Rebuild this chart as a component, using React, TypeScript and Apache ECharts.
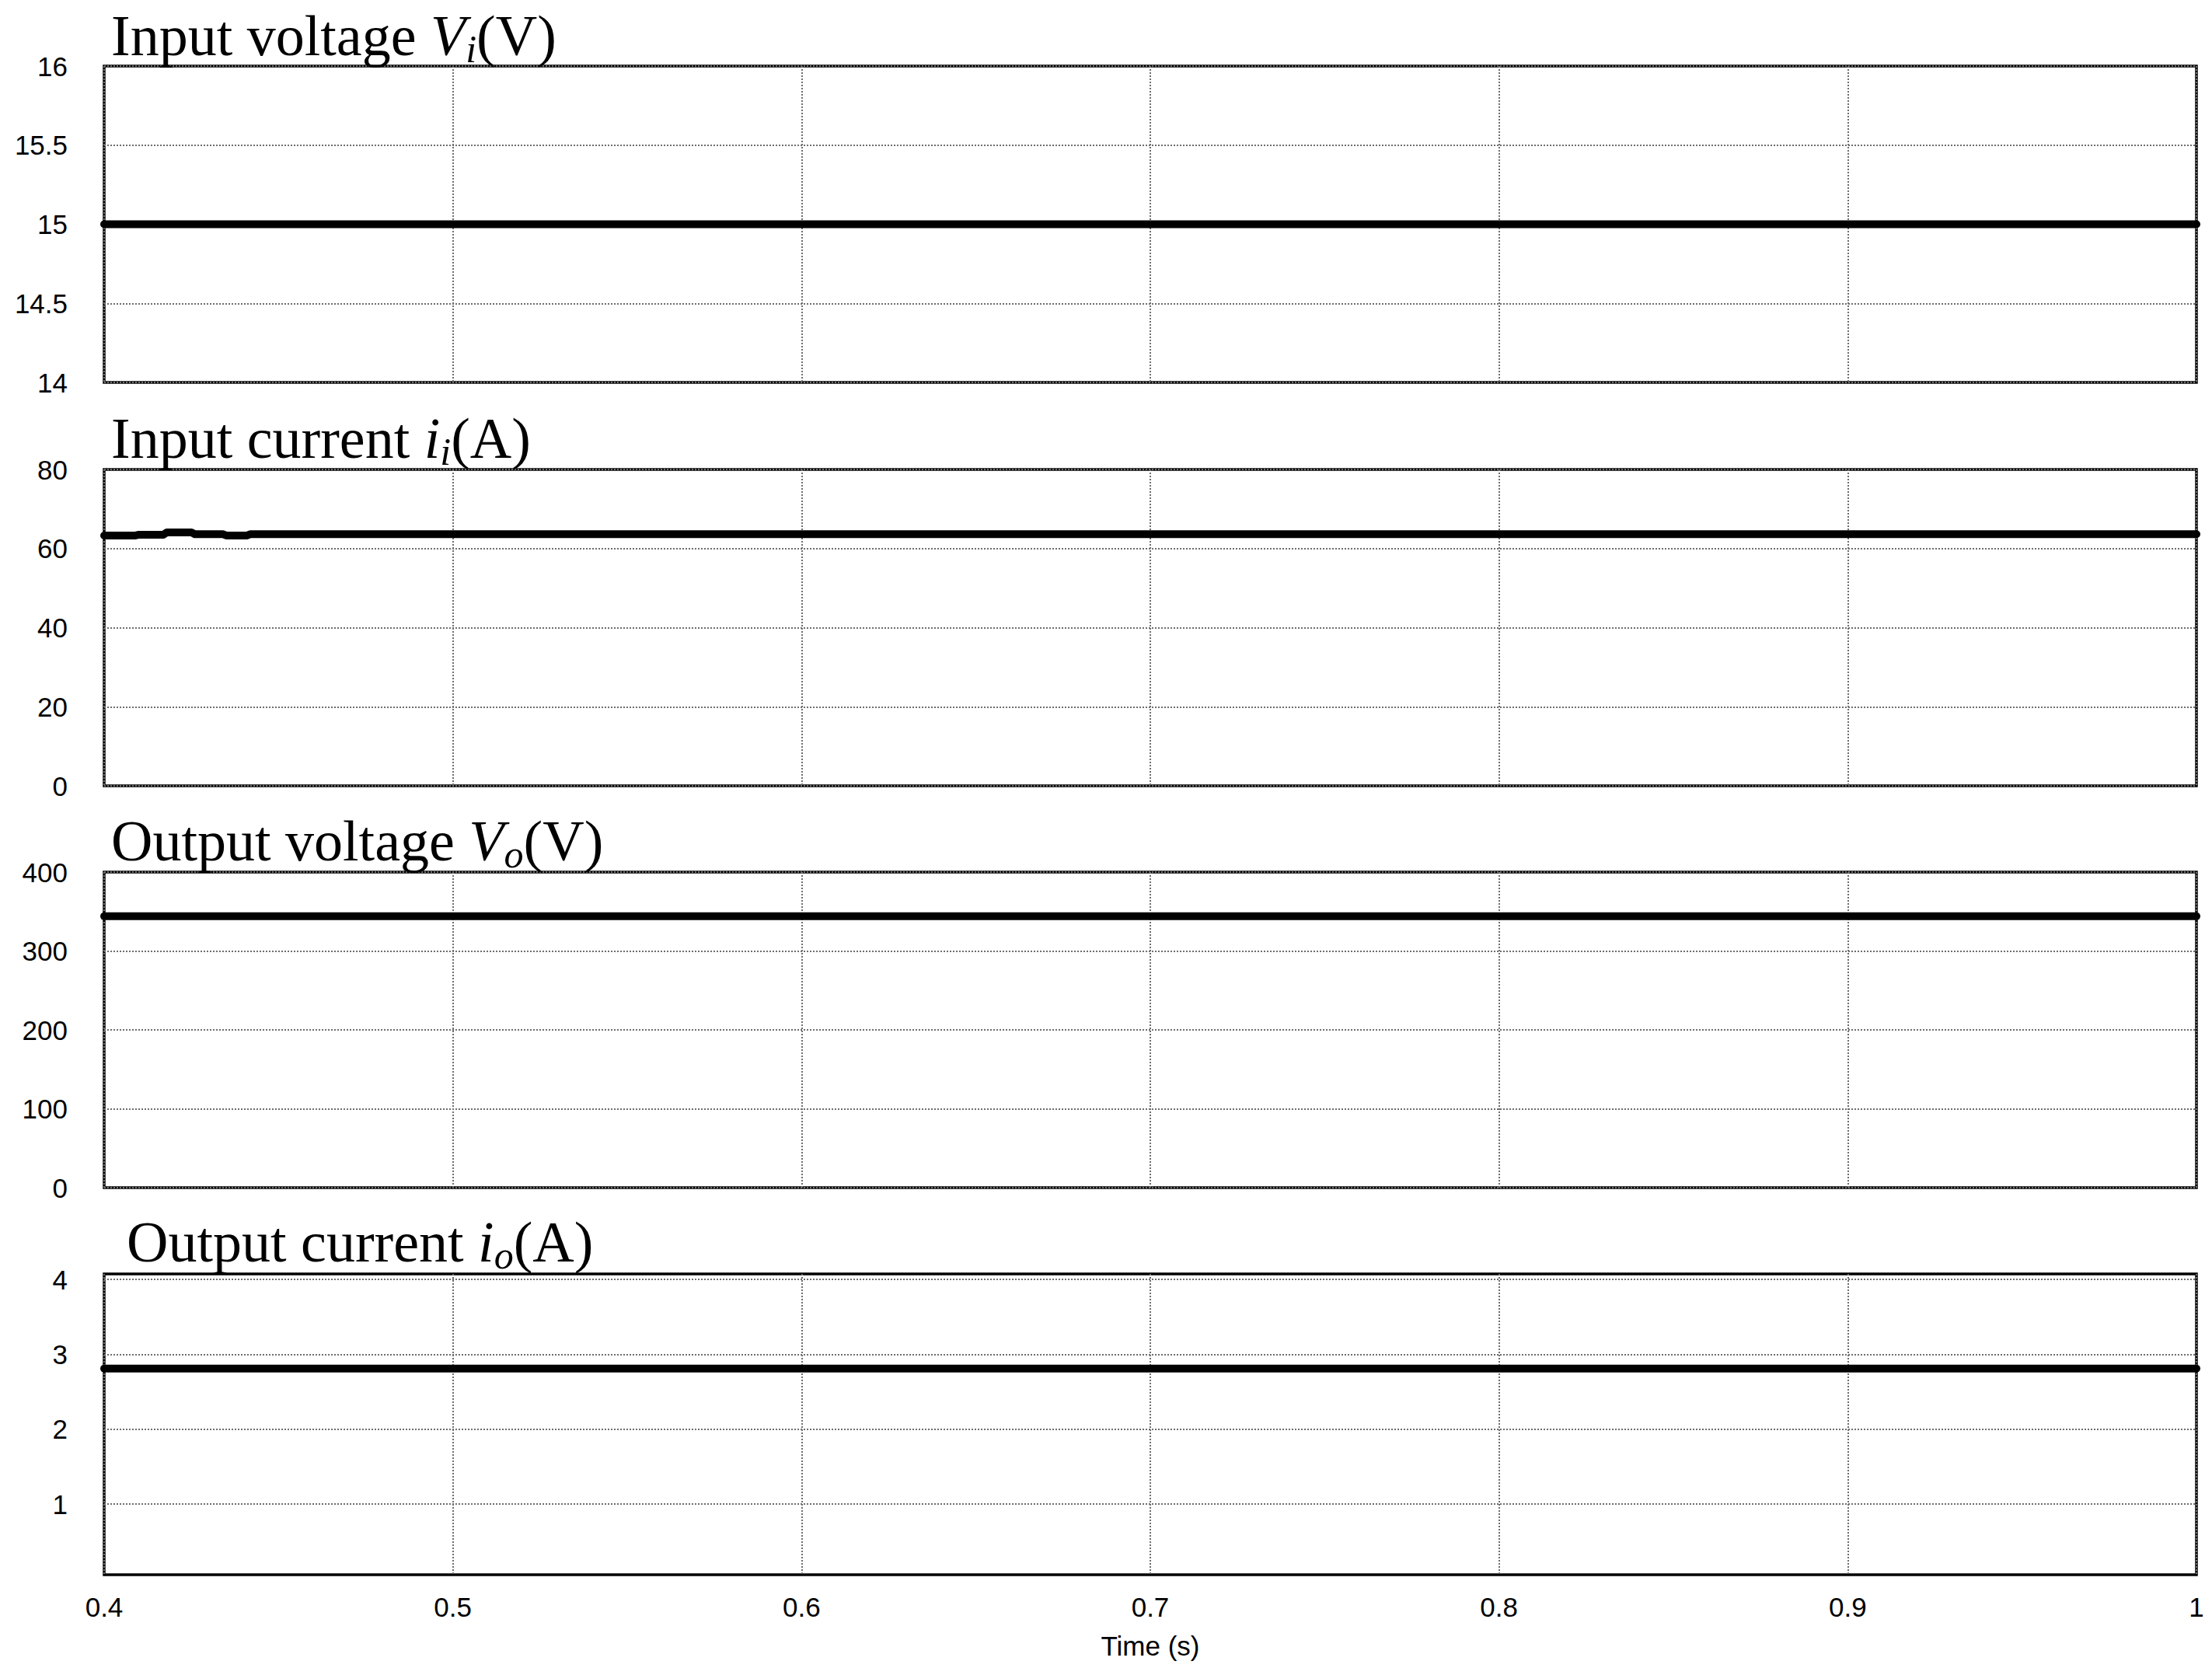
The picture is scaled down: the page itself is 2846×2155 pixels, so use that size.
import React, { useEffect, useRef } from 'react';
import * as echarts from 'echarts';

// ---- Data ----
const timeRange = [0.4, 1.0];
const timeInterval = 0.1;

const vinTime = [0.4, 1.0];
const vinValues = [15, 15];

const iinTime = [0.4, 0.409, 0.41, 0.417, 0.418, 0.425, 0.426, 0.434, 0.435, 0.441, 0.442, 1.0];
const iinValues = [63.3, 63.3, 63.5, 63.5, 64.1, 64.1, 63.65, 63.65, 63.3, 63.3, 63.65, 63.65];

const voTime = [0.4, 1.0];
const voValues = [344, 344];

const ioTime = [0.4, 1.0];
const ioValues = [2.81, 2.81];

const vinAxis = { min: 14, max: 16, interval: 0.5 };
const iinAxis = { min: 0, max: 80, interval: 20 };
const voAxis = { min: 0, max: 400, interval: 100 };
const ioAxis = { min: 0.055, max: 4.075 };
const ioTicks = [1, 2, 3, 4];

const titles = [
  'Input voltage {it|V}{sub|i}(V)',
  'Input current {it|i}{sub|i}(A)',
  'Output voltage {it|V}{sub|o}(V)',
  'Output current {it|i}{sub|o}(A)',
];
const xName = 'Time (s)';

// ---- Layout ----
const LEFT = 134;
const RIGHT = 20;
const gridBoxes = [
  { top: 85, height: 407 },
  { top: 604, height: 407 },
  { top: 1122, height: 406 },
  { top: 1639, height: 387 },
];
const titlePos = [
  { left: 143, top: 4 },
  { left: 143, top: 522 },
  { left: 143, top: 1040 },
  { left: 163, top: 1556 },
];

const gridLine = { type: 'dotted' as const, color: '#6e6e6e', width: 2 };
const tickFont = { fontSize: 35, color: '#000', fontFamily: 'Liberation Sans' };

export default function App() {
  const ref = useRef<HTMLDivElement>(null);
  useEffect(() => {
    document.body.style.margin = '0';
    document.body.style.overflow = 'hidden';
    if (!ref.current) return;
    const chart = echarts.init(ref.current, null, { renderer: 'svg' });

    const serif = 'Liberation Serif';
    const rich = {
      it: { fontFamily: serif, fontSize: 74, fontStyle: 'italic', color: '#000', lineHeight: 84 },
      sub: { fontFamily: serif, fontSize: 50, fontStyle: 'italic', color: '#000', lineHeight: 84, verticalAlign: 'bottom' },
    };

    const yAxes: any[] = [vinAxis, iinAxis, voAxis].map((a, i) => ({
      type: 'value',
      gridIndex: i,
      min: a.min,
      max: a.max,
      interval: a.interval,
      axisLine: { show: false },
      axisTick: { show: false },
      axisLabel: { ...tickFont, margin: 47 },
      splitLine: { show: true, lineStyle: gridLine },
    }));
    yAxes.push({
      type: 'value',
      gridIndex: 3,
      min: ioAxis.min,
      max: ioAxis.max,
      axisLine: { show: false },
      axisTick: { show: false },
      axisLabel: { ...tickFont, margin: 47, customValues: ioTicks },
      splitLine: { show: false, lineStyle: gridLine },
    });

    const xAxes = [0, 1, 2, 3].map((i) => ({
      type: 'value',
      gridIndex: i,
      min: timeRange[0],
      max: timeRange[1],
      interval: timeInterval,
      axisLine: { show: false },
      axisTick: { show: false },
      axisLabel: { show: i === 3, ...tickFont, margin: 24 },
      splitLine: { show: true, lineStyle: gridLine },
      ...(i === 3
        ? {
            name: xName,
            nameLocation: 'middle',
            nameGap: 74,
            nameTextStyle: { ...tickFont },
          }
        : {}),
    }));

    const mk = (t: number[], v: number[]) => t.map((x, i) => [x, v[i]]);
    const lineStyle = { color: '#000', width: 10, cap: 'round', join: 'round' };
    const datasets = [
      mk(vinTime, vinValues),
      mk(iinTime, iinValues),
      mk(voTime, voValues),
      mk(ioTime, ioValues),
    ];

    const series: any[] = datasets.map((d, i) => ({
      type: 'line',
      xAxisIndex: i,
      yAxisIndex: i,
      data: d,
      showSymbol: false,
      symbol: 'none',
      lineStyle,
      z: 5,
      ...(i === 3
        ? {
            markLine: {
              silent: true,
              symbol: ['none', 'none'],
              label: { show: false },
              lineStyle: gridLine,
              z: 1,
              data: ioTicks.map((v) => ({ yAxis: v })),
            },
          }
        : {}),
    }));

    chart.setOption({
      animation: false,
      backgroundColor: '#fff',
      title: titles.map((t, i) => ({
        text: t,
        left: titlePos[i].left,
        top: titlePos[i].top,
        padding: 0,
        textStyle: { fontFamily: serif, fontSize: 74, fontWeight: 'normal', color: '#000', lineHeight: 84, rich },
      })),
      grid: gridBoxes.map((g) => ({
        left: LEFT,
        right: RIGHT,
        top: g.top,
        height: g.height,
        show: true,
        borderColor: '#000',
        borderWidth: 3.5,
        backgroundColor: 'transparent',
        containLabel: false,
      })),
      xAxis: xAxes,
      yAxis: yAxes,
      series,
    });

    return () => chart.dispose();
  }, []);
  return <div ref={ref} style={{ width: 2846, height: 2155 }} />;
}
